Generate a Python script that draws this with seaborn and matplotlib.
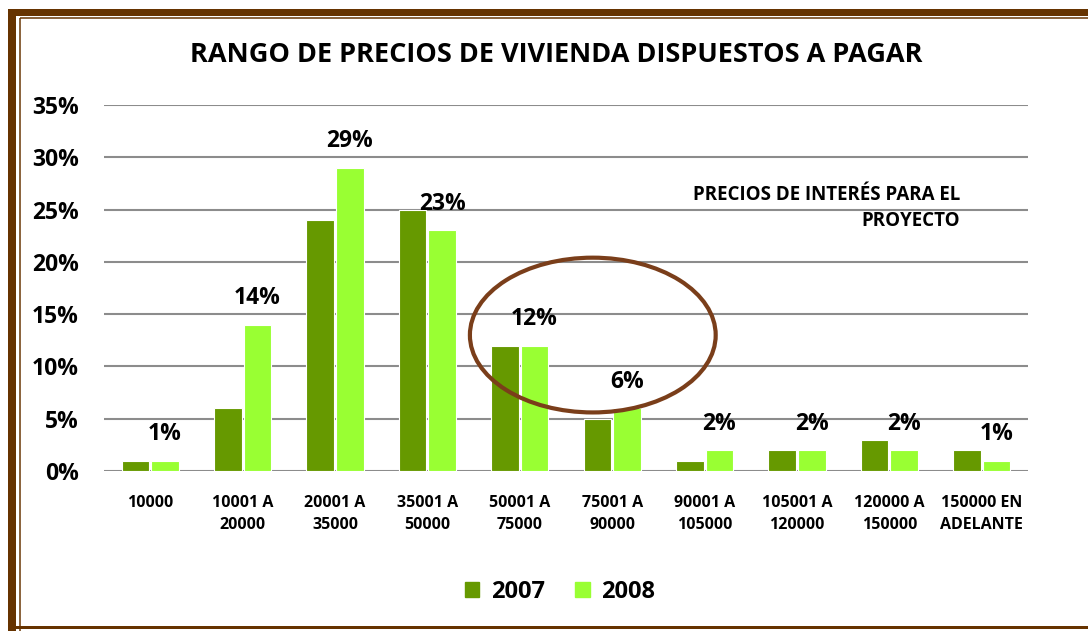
import pandas as pd
import numpy as np
import matplotlib
matplotlib.use("Agg")
import matplotlib.pyplot as plt
import seaborn as sns
from matplotlib.patches import Ellipse
from matplotlib.lines import Line2D
from matplotlib.ticker import PercentFormatter

# Datos (porcentajes)
rangos = ["10000", "10001 A\n20000", "20001 A\n35000", "35001 A\n50000", "50001 A\n75000",
          "75001 A\n90000", "90001 A\n105000", "105001 A\n120000", "120000 A\n150000",
          "150000 EN\nADELANTE"]
valores_2007 = [1, 6, 24, 25, 12, 5, 1, 2, 3, 2]
valores_2008 = [1, 14, 29, 23, 12, 6, 2, 2, 2, 1]
etiquetas_2008 = ["1%", "14%", "29%", "23%", "12%", "6%", "2%", "2%", "2%", "1%"]

df = pd.DataFrame({
    "rango": rangos * 2,
    "pct": valores_2007 + valores_2008,
    "anio": ["2007"] * len(rangos) + ["2008"] * len(rangos),
})

sns.set_theme(style="white")
plt.rcParams["font.family"] = ["Open Sans", "DejaVu Sans"]
plt.rcParams["font.weight"] = "bold"
plt.rcParams["text.color"] = "black"
plt.rcParams["xtick.color"] = "black"
plt.rcParams["ytick.color"] = "black"

colores = {"2007": "#669900", "2008": "#99FF33"}

fig = plt.figure(figsize=(10.88, 6.31), dpi=100)
ax = fig.add_axes([104 / 1088, 1 - 471 / 631, 924 / 1088, (471 - 105) / 631])

sns.barplot(data=df, x="rango", y="pct", hue="anio", order=rangos, palette=colores,
            saturation=1, width=0.64, gap=0.07, edgecolor="white", linewidth=0.8, ax=ax,
            legend=False, zorder=3)

ax.set_ylim(0, 35)
ax.set_xlim(-0.5, len(rangos) - 0.5)
ax.set_yticks(range(0, 36, 5))
ax.yaxis.set_major_formatter(PercentFormatter(decimals=0))
ax.set_xticks(range(len(rangos)), labels=rangos, linespacing=1.5, fontweight="bold")
ax.grid(axis="y", color="#8c8c8c", linewidth=1.5, zorder=0)
ax.set_axisbelow(True)
for s in ax.spines.values():
    s.set_visible(False)
ax.set_xlabel("")
ax.set_ylabel("")
ax.tick_params(axis="y", labelsize=16.5, pad=18, length=0, labelcolor="black")
ax.tick_params(axis="x", labelsize=11.5, pad=17, length=0, labelcolor="black")
for t in ax.get_yticklabels():
    t.set_fontweight("bold")

# etiquetas sobre las barras 2008
for i, v in enumerate(valores_2008):
    ax.annotate(etiquetas_2008[i], (i + 0.16, v), xytext=(0, 19), textcoords="offset points",
                ha="center", va="center", fontsize=16.5, fontweight="bold", color="black", zorder=5)

# elipse de precios de interes
ax.add_patch(Ellipse((4.79, 13.0), 2.66, 14.8, fill=False, edgecolor="#7a3e1a",
                     linewidth=3, zorder=4, clip_on=False))
ax.text(960 / 1088, 1 - 208 / 631, "PRECIOS DE INTERÉS PARA EL\nPROYECTO", transform=fig.transFigure,
        ha="right", va="center", fontsize=13.5, fontweight="bold", linespacing=1.35, color="black")

fig.text(556 / 1088, 1 - 55 / 631, "RANGO DE PRECIOS DE VIVIENDA DISPUESTOS A PAGAR",
         ha="center", va="center", fontsize=19.5, fontweight="bold", color="black")

handles = [plt.Rectangle((0, 0), 1, 1, color=colores["2007"]),
           plt.Rectangle((0, 0), 1, 1, color=colores["2008"])]
fig.legend(handles, ["2007", "2008"], loc="center", bbox_to_anchor=(560 / 1088, 1 - 592 / 631),
           ncol=2, frameon=False, handlelength=0.6, handleheight=0.6, handletextpad=0.5,
           columnspacing=1.3, prop={"size": 17, "weight": "bold"})

# marco marron
W, H = 1088, 631
def linea(x0, y0, x1, y1, lw):
    fig.add_artist(Line2D([x0 / W, x1 / W], [1 - y0 / H, 1 - y1 / H], transform=fig.transFigure,
                          color="#663300", linewidth=lw * 0.72, solid_capstyle="butt"))

linea(12, 12, 1100, 12, 7)
linea(12, 8.5, 12, 631, 8)
linea(19.5, 17.5, 1100, 17.5, 1.5)
linea(19.5, 17.5, 19.5, 631, 1.5)
linea(12, 627, 1100, 627, 3)

fig.savefig("out.png", dpi=100)
